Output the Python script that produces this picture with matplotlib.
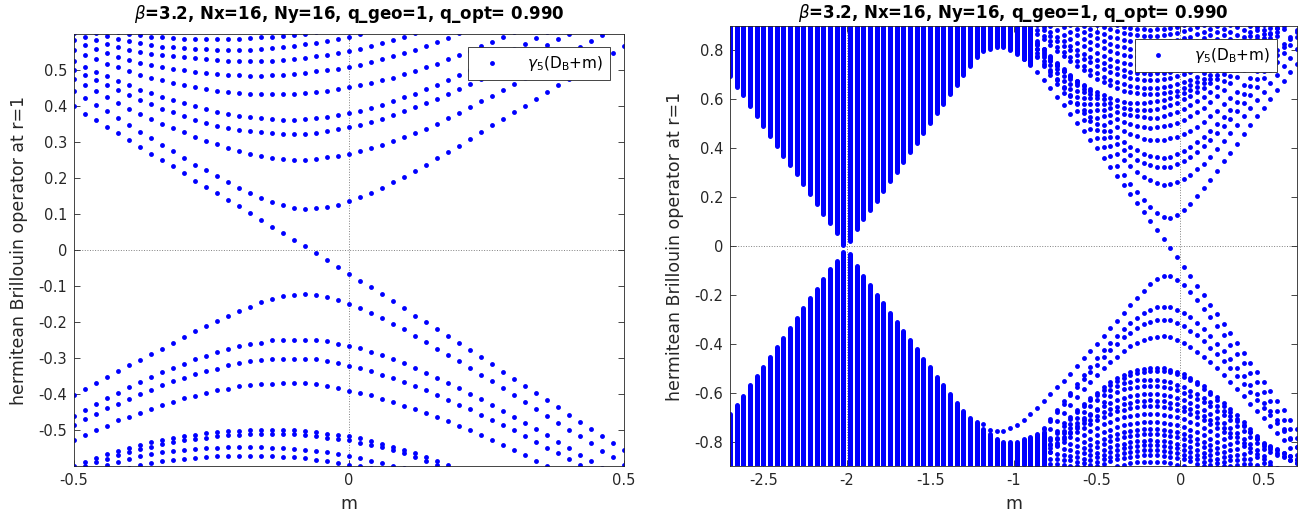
import numpy as np
import matplotlib
matplotlib.use('Agg')
import matplotlib.pyplot as plt
from matplotlib.lines import Line2D

TITLE = r'$\beta$=3.2, Nx=16, Ny=16, q_geo=1, q_opt= 0.990'
YLABEL = 'hermitean Brillouin operator at r=1'
LEGEND = r'$\gamma_5$(D$_\mathregular{B}$+m)'

# mass scans
m_fine = np.round(np.arange(-0.5, 0.5001, 0.02), 2)      # left panel
m_coarse = np.round(np.arange(-2.7, 0.7001, 0.04), 2)    # right panel

# ---- eigenvalue branches on the fine scan (m = -0.5 .. 0.5) ----
cross = [.399, .379, .360, .342, .324, .305, .286, .268, .250, .232, .213, .193, .175, .157, .139,
         .121, .102, .083, .065, .047, .029, .010, -.009, -.028, -.047, -.067, -.085, -.104, -.123,
         -.143, -.162, -.182, -.201, -.220, -.240, -.259, -.279, -.298, -.318, -.338, -.357, -.377,
         -.397, -.417, -.437, -.457, -.477, -.496, -.516, -.536, -.556]
up1 = [.441, .422, .403, .385, .367, .348, .329, .311, .292, .274, .255, .237, .222, .206, .190,
       .173, .158, .144, .134, .125, .118, .115, .116, .119, .126, .135, .146, .159, .172, .188,
       .203, .220, .237, .255, .272, .290, .308, .327, .346, .364, .382, .401, .419, .439, .457,
       .475, .494, .512, .530, .548, .566]
up2 = [.475, .458, .441, .424, .408, .393, .378, .364, .351, .339, .327, .315, .304, .294, .284,
       .276, .268, .261, .256, .253, .251, .251, .253, .257, .262, .268, .274, .283, .292, .302,
       .314, .325, .337, .351, .366, .380, .398, .413, .429, .445, .462, .478, .495, .513, .530,
       .547, .564, .581, .597, .614, .631]
up3 = [.499, .485, .471, .457, .444, .431, .418, .405, .393, .382, .371, .361, .352, .345, .339,
       .334, .330, .327, .325, .323, .323, .323, .325, .330, .336, .342, .348, .355, .364, .374,
       .385, .396, .408, .420, .433, .447, .461, .475, .490, .505, .521, .537, .553, .569, .585,
       .601, .618, .635, .652, .669, .686]
up4 = [.524, .509, .495, .482, .469, .457, .445, .435, .425, .416, .407, .399, .391, .384, .378,
       .373, .369, .366, .364, .362, .362, .363, .366, .370, .376, .381, .387, .394, .403, .413,
       .424, .434, .446, .458, .471, .485, .499, .513, .528, .543, .558, .573, .589, .605, .621,
       .637, .653, .669, .685, .701, .717]
up5 = [.556, .543, .530, .518, .507, .496, .487, .479, .472, .465, .459, .453, .448, .443, .439,
       .436, .434, .433, .433, .433, .434, .437, .440, .443, .447, .452, .458, .464, .471, .479,
       .488, .497, .507, .518, .530, .541, .553, .566, .579, .592, .605, .618, .632, .646, .660,
       .674, .688, .702, .716, .730, .744]
up6 = [.582, .570, .558, .547, .537, .528, .520, .513, .508, .503, .499, .495, .491, .488, .486,
       .485, .484, .484, .485, .487, .490, .493, .496, .500, .504, .509, .515, .522, .530, .538,
       .547, .556, .566, .577, .590, .602, .614, .627, .640, .653, .666, .679, .692, .706, .720,
       .734, .748, .762, .776, .790, .804]
up7 = [.604, .593, .582, .572, .563, .555, .549, .544, .541, .539, .536, .533, .530, .528, .526,
       .525, .524, .524, .525, .527, .530, .534, .538, .542, .547, .553, .559, .566, .575, .584,
       .593, .602, .611, .621, .631, .641, .652, .663, .674, .685, .697, .709, .721, .733, .745,
       .758, .771, .784, .797, .810, .823]
up8 = [.618, .610, .602, .595, .587, .580, .574, .569, .565, .563, .561, .559, .557, .556, .555,
       .555, .556, .558, .561, .564, .568, .572, .576, .581, .586, .593, .600, .607, .614, .622,
       .630, .638, .647, .656, .665, .675, .685, .695, .705, .716, .727, .738, .749, .760, .772,
       .784, .796, .808, .820, .832, .844]
up9 = [.630, .623, .616, .610, .605, .600, .596, .593, .591, .589, .587, .586, .586, .586, .586,
       .587, .589, .591, .593, .595, .598, .601, .605, .609, .614, .619, .625, .631, .637, .644,
       .651, .658, .666, .674, .682, .691, .700, .709, .718, .728, .738, .748, .758, .769, .780,
       .791, .802, .813, .825, .837, .849]
dn1 = [-.402, -.386, -.369, -.353, -.337, -.320, -.305, -.288, -.274, -.258, -.242, -.226, -.212,
       -.197, -.183, -.169, -.157, -.145, -.135, -.129, -.124, -.123, -.124, -.131, -.138, -.149,
       -.160, -.175, -.188, -.205, -.219, -.238, -.256, -.274, -.291, -.309, -.328, -.346, -.365,
       -.384, -.404, -.422, -.442, -.460, -.480, -.499, -.518, -.536, -.557, -.576, -.596]
dn2 = [-.460, -.444, -.427, -.411, -.397, -.381, -.368, -.354, -.340, -.328, -.316, -.303, -.294,
       -.283, -.275, -.266, -.261, -.257, -.251, -.249, -.249, -.249, -.251, -.254, -.260, -.266,
       -.273, -.283, -.291, -.303, -.314, -.328, -.341, -.355, -.369, -.383, -.399, -.414, -.431,
       -.446, -.464, -.481, -.498, -.515, -.532, -.550, -.569, -.587, -.605, -.623, -.641]
dn3 = [-.485, -.470, -.455, -.439, -.427, -.413, -.399, -.388, -.374, -.365, -.356, -.345, -.337,
       -.330, -.320, -.314, -.309, -.306, -.303, -.302, -.302, -.302, -.304, -.307, -.313, -.321,
       -.328, -.337, -.346, -.355, -.366, -.377, -.389, -.402, -.416, -.430, -.443, -.457, -.471,
       -.486, -.501, -.517, -.533, -.549, -.565, -.581, -.597, -.613, -.629, -.645, -.661]
dn4 = [-.527, -.513, -.499, -.488, -.473, -.464, -.453, -.441, -.430, -.421, -.411, -.405, -.396,
       -.390, -.385, -.379, -.376, -.373, -.371, -.369, -.369, -.370, -.373, -.377, -.383, -.391,
       -.397, -.404, -.413, -.422, -.432, -.442, -.453, -.464, -.476, -.488, -.501, -.514, -.528,
       -.542, -.556, -.570, -.585, -.600, -.615, -.630, -.645, -.660, -.675, -.690, -.705]
dn5a = [-.600, -.589, -.578, -.567, -.558, -.549, -.541, -.534, -.528, -.522, -.517, -.513, -.509,
        -.506, -.503, -.502, -.501, -.500, -.500, -.500, -.501, -.503, -.506, -.510, -.514, -.518,
        -.523, -.530, -.538, -.546, -.555, -.564, -.574, -.585, -.596, -.607, -.618, -.630, -.642,
        -.654, -.667, -.680, -.693, -.706, -.720, -.734, -.748, -.762, -.776, -.790, -.804]
dn5b = [-.611, -.600, -.590, -.580, -.570, -.561, -.553, -.546, -.540, -.534, -.529, -.525, -.521,
        -.518, -.515, -.513, -.512, -.511, -.511, -.511, -.512, -.514, -.517, -.521, -.525, -.529,
        -.535, -.541, -.548, -.556, -.565, -.575, -.585, -.596, -.607, -.618, -.630, -.642, -.654,
        -.667, -.680, -.693, -.706, -.720, -.734, -.748, -.762, -.776, -.790, -.804, -.818]
dn6 = [-.630, -.620, -.610, -.597, -.588, -.580, -.573, -.567, -.562, -.558, -.555, -.552, -.550,
       -.549, -.548, -.548, -.548, -.548, -.549, -.550, -.552, -.555, -.558, -.562, -.567, -.572,
       -.578, -.585, -.592, -.599, -.606, -.613, -.621, -.629, -.637, -.646, -.655, -.664, -.674,
       -.684, -.694, -.705, -.716, -.727, -.738, -.750, -.762, -.774, -.786, -.798, -.810]
dn7 = [-.665, -.650, -.637, -.625, -.614, -.605, -.598, -.592, -.587, -.583, -.580, -.577, -.575,
       -.573, -.572, -.572, -.572, -.572, -.573, -.574, -.576, -.579, -.582, -.586, -.591, -.596,
       -.601, -.606, -.612, -.618, -.625, -.632, -.640, -.648, -.656, -.665, -.674, -.683, -.693,
       -.703, -.713, -.724, -.735, -.746, -.757, -.769, -.781, -.793, -.805, -.817, -.829]

# continuation of the same branches on the coarse scan: below m=-0.5 (ending at -0.54)
# and above m=0.5 (0.54 .. 0.70)
cross_lo = [.80, .785, .765, .74, .71, .68, .645, .61, .575, .54, .505, .47, .435]
cross_hi = [-.594, -.633, -.672, -.711, -.75]
up1_lo = [.884, .847, .81, .774, .737, .70, .663, .626, .589, .552, .515, .478]
up1_hi = [.60, .64, .675, .71, .745]
up2_lo = [.895, .86, .825, .79, .755, .72, .685, .65, .615, .58, .545, .51]
up2_hi = [.665, .70, .735, .77, .805]
up3_lo = [.912, .878, .844, .811, .777, .745, .712, .680, .648, .617, .587, .557, .527]
up3_hi = [.720, .754, .788, .822, .856]
up4_lo = [.909, .874, .840, .806, .772, .739, .706, .674, .642, .611, .581, .552]
up4_hi = [.749, .781, .813, .845, .877]
up5_lo = [.921, .887, .854, .821, .788, .756, .724, .694, .664, .635, .607, .581]
up5_hi = [.772, .800, .828, .856, .884]
up6_lo = [.907, .873, .840, .807, .775, .744, .714, .685, .657, .630, .605]
up6_hi = [.832, .860, .888, .916, .944]
up7_lo = [.915, .885, .855, .825, .797, .769, .742, .716, .691, .667, .644, .623]
up7_hi = [.849, .875, .901, .927, .953]
up8_lo = [.922, .892, .862, .832, .804, .776, .750, .724, .700, .677, .656, .636]
up8_hi = [.868, .892, .916, .940, .964]
up9_lo = [.911, .884, .857, .831, .807, .782, .759, .737, .716, .696, .677, .660, .644]
up9_hi = [.871, .893, .915, .937, .959]
dn1_lo = [-.73, -.753, -.758, -.756, -.746, -.733, -.711, -.686, -.663, -.636, -.605, -.578,
          -.552, -.522, -.49, -.458, -.43]
dn1_hi = [-.635, -.673, -.711, -.749, -.787]
dn2_lo = [-.924, -.888, -.852, -.816, -.78, -.744, -.708, -.672, -.636, -.6, -.564, -.529, -.494]
dn2_hi = [-.677, -.713, -.749, -.785, -.821]
dn3_lo = [-.93, -.894, -.858, -.822, -.786, -.75, -.715, -.68, -.645, -.611, -.578, -.546, -.515]
dn3_hi = [-.693, -.725, -.757, -.789, -.821]
dn4_lo = [-.925, -.89, -.855, -.82, -.785, -.75, -.716, -.682, -.649, -.617, -.586, -.556]
dn4_hi = [-.735, -.765, -.795, -.825, -.855]
dn5a_lo = [-.909, -.877, -.846, -.815, -.784, -.755, -.726, -.698, -.672, -.646, -.622]
dn5a_hi = [-.818, -.832, -.846, -.860, -.874]
dn5b_lo = [-.915, -.884, -.853, -.822, -.792, -.763, -.735, -.707, -.681, -.656, -.632]
dn5b_hi = [-.832, -.846, -.860, -.874, -.888]
dn6_lo = [-.903, -.873, -.843, -.814, -.785, -.757, -.73, -.705, -.68, -.655]
dn6_hi = [-.822, -.834, -.846, -.858, -.870]
dn7_lo = [-.9, -.872, -.843, -.815, -.788, -.762, -.737, -.713, -.69]
dn7_hi = [-.841, -.853, -.865, -.877, -.889]

# branches that stay above 0.6 / below -0.6 (coarse scan only), with their first mass
hi1 = [.917, .893, .869, .845, .822, .799, .778, .757, .737, .718, .701, .685, .670, .657, .646,
       .636, .629, .624, .621, .620, .621, .624, .629, .636, .646, .657, .670, .685, .701, .718,
       .737, .757, .778, .799, .822, .845, .869, .893, .917]
hi2 = [.906, .883, .860, .837, .815, .794, .774, .755, .737, .721, .706, .692, .680, .670, .661,
       .654, .649, .646, .645, .646, .649, .654, .661, .670, .680, .692, .706, .721, .737, .755,
       .774, .794, .815, .837, .860, .883, .906]
hi3 = [.904, .882, .861, .840, .820, .801, .783, .767, .751, .737, .724, .713, .703, .695, .688,
       .684, .681, .680, .681, .684, .688, .695, .703, .713, .724, .737, .751, .767, .783, .801,
       .820, .840, .861, .882, .904]
hi4 = [.918, .897, .876, .856, .837, .819, .802, .787, .772, .759, .747, .736, .727, .719, .713,
       .709, .706, .705, .706, .709, .713, .719, .727, .736, .747, .759, .772, .787, .802, .819,
       .837, .856, .876, .897, .918]
hi5 = [.902, .883, .865, .848, .832, .817, .804, .791, .777, .766, .757, .749, .743, .739, .736,
       .735, .736, .739, .743, .749, .757, .766, .777, .791, .804, .817, .832, .848, .865, .883, .902]
hi6 = [.911, .894, .877, .862, .847, .833, .821, .809, .799, .790, .783, .777, .773, .771, .770,
       .771, .773, .777, .783, .790, .799, .809, .821, .833, .847, .862, .877, .894, .911]
hi7 = [.904, .889, .875, .862, .850, .838, .828, .820, .813, .807, .803, .801, .800, .801, .803,
       .807, .813, .820, .828, .838, .850, .862, .875, .889, .904]
hi8 = [.901, .889, .877, .866, .857, .849, .842, .837, .833, .831, .830, .831, .833, .837, .842,
       .849, .857, .866, .877, .889, .901]
hi9 = [.904, .894, .886, .878, .872, .867, .863, .861, .860, .861, .863, .867, .872, .878, .886,
       .894, .904]
hi10 = [.903, .897, .891, .888, .886, .885, .886, .888, .891, .897, .903]
hi_start = [-0.94, -0.90, -0.86, -0.86, -0.78, -0.74, -0.66, -0.58, -0.50, -0.38]

lo1 = [-.909, -.884, -.859, -.834, -.811, -.788, -.766, -.744, -.724, -.705, -.688, -.671, -.656,
       -.643, -.631, -.622, -.615, -.609, -.606, -.605, -.606, -.609, -.615, -.622, -.631, -.643,
       -.656, -.671, -.688, -.705, -.724, -.744, -.766, -.788, -.811, -.834, -.859, -.884, -.909]
lo2 = [-.919, -.896, -.872, -.849, -.826, -.804, -.783, -.763, -.744, -.726, -.710, -.694, -.680,
       -.668, -.657, -.648, -.641, -.636, -.633, -.632, -.633, -.636, -.641, -.648, -.657, -.668,
       -.680, -.694, -.710, -.726, -.744, -.763, -.783, -.804, -.826, -.849, -.872, -.896, -.919]
lo3 = [-.909, -.886, -.864, -.842, -.820, -.800, -.780, -.761, -.744, -.728, -.713, -.699, -.688,
       -.677, -.669, -.662, -.657, -.654, -.653, -.654, -.657, -.662, -.669, -.677, -.688, -.699,
       -.713, -.728, -.744, -.761, -.780, -.800, -.820, -.842, -.864, -.886, -.909]
lo4 = [-.919, -.896, -.873, -.851, -.830, -.811, -.789, -.772, -.757, -.743, -.730, -.719, -.709,
       -.701, -.694, -.690, -.687, -.686, -.687, -.690, -.694, -.701, -.709, -.719, -.730, -.743,
       -.757, -.772, -.789, -.811, -.830, -.851, -.873, -.896, -.919]
lo5 = [-.912, -.892, -.872, -.853, -.836, -.819, -.803, -.788, -.775, -.762, -.752, -.742, -.734,
       -.728, -.724, -.721, -.720, -.721, -.724, -.728, -.734, -.742, -.752, -.762, -.775, -.788,
       -.803, -.819, -.836, -.853, -.872, -.892, -.912]
lo6 = [-.912, -.893, -.875, -.858, -.842, -.827, -.813, -.800, -.788, -.778, -.769, -.761, -.756,
       -.751, -.749, -.748, -.749, -.751, -.756, -.761, -.769, -.778, -.788, -.800, -.813, -.827,
       -.842, -.858, -.875, -.893, -.912]
lo7 = [-.911, -.894, -.877, -.862, -.847, -.833, -.821, -.809, -.799, -.790, -.783, -.777, -.773,
       -.771, -.770, -.771, -.773, -.777, -.783, -.790, -.799, -.809, -.821, -.833, -.847, -.862,
       -.877, -.894, -.911]
lo8 = [-.900, -.885, -.871, -.857, -.845, -.834, -.824, -.815, -.808, -.802, -.798, -.796, -.795,
       -.796, -.798, -.802, -.808, -.815, -.824, -.834, -.845, -.857, -.871, -.885, -.900]
lo9 = [-.902, -.888, -.876, -.864, -.853, -.843, -.835, -.828, -.822, -.818, -.816, -.815, -.816,
       -.818, -.822, -.828, -.835, -.843, -.853, -.864, -.876, -.888, -.902]
lo10 = [-.906, -.894, -.882, -.872, -.862, -.854, -.847, -.842, -.838, -.836, -.835, -.836, -.838,
        -.842, -.847, -.854, -.862, -.872, -.882, -.894, -.906]
lo11 = [-.900, -.890, -.881, -.873, -.867, -.862, -.858, -.856, -.855, -.856, -.858, -.862, -.867,
        -.873, -.881, -.890, -.900]
lo12 = [-.900, -.894, -.888, -.885, -.883, -.882, -.883, -.885, -.888, -.894, -.900]
lo_start = [-0.94, -0.94, -0.90, -0.86, -0.82, -0.78, -0.74, -0.66, -0.62, -0.58, -0.50, -0.38]

# doubler band: edge of the dense eigenvalue columns, coarse scan from m=-2.7
band_top_edge = [.694, .650, .619, .571, .531, .490, .449, .408, .370, .331, .293, .252, .214,
                 .173, .132, .093, .054, .005, .020, .068, .109, .147, .186, .224, .265, .303,
                 .344, .384, .422, .463, .503, .544, .582, .622, .660, .700, .735, .773, .796,
                 .805, .816, .814, .805, .790, .765, .745]
band_bot_edge = [-.689, -.649, -.612, -.569, -.531, -.493, -.453, -.412, -.376, -.335, -.295,
                 -.254, -.214, -.177, -.136, -.096, -.061, -.025, -.031, -.082, -.123, -.159,
                 -.200, -.234, -.274, -.312, -.349, -.385, -.423, -.461, -.497, -.534, -.569,
                 -.605, -.641, -.673, -.705, -.72, -.75, -.77, -.79, -.80, -.80, -.80, -.79,
                 -.78, -.77, -.76]

near = [(cross, cross_lo, cross_hi), (up1, up1_lo, up1_hi), (up2, up2_lo, up2_hi),
        (up3, up3_lo, up3_hi), (up4, up4_lo, up4_hi), (up5, up5_lo, up5_hi),
        (up6, up6_lo, up6_hi), (up7, up7_lo, up7_hi), (up8, up8_lo, up8_hi),
        (up9, up9_lo, up9_hi), (dn1, dn1_lo, dn1_hi), (dn2, dn2_lo, dn2_hi),
        (dn3, dn3_lo, dn3_hi), (dn4, dn4_lo, dn4_hi), (dn5a, dn5a_lo, dn5a_hi),
        (dn5b, dn5b_lo, dn5b_hi), (dn6, dn6_lo, dn6_hi), (dn7, dn7_lo, dn7_hi)]
far = list(zip([hi1, hi2, hi3, hi4, hi5, hi6, hi7, hi8, hi9, hi10], hi_start)) + \
      list(zip([lo1, lo2, lo3, lo4, lo5, lo6, lo7, lo8, lo9, lo10, lo11, lo12], lo_start))

BLUE = (0, 0, 1)
MS = 3.5
GRAY = '#262626'

plt.rcParams['font.family'] = ['DejaVu Sans']
plt.rcParams['mathtext.fontset'] = 'dejavusans'

fig = plt.figure(figsize=(13.02, 5.16), dpi=100)
ax1 = fig.add_axes([74 / 1302, 1 - 466 / 516, 550 / 1302, 432 / 516])
ax2 = fig.add_axes([730 / 1302, 1 - 466 / 516, 567 / 1302, 440 / 516])


def dots(ax, m, y):
    ax.plot(m, y, 'o', color=BLUE, ms=MS, mew=0, ls='none')


def idx(m):
    return int(np.argmin(np.abs(m_coarse - m)))


def tick_text(v):
    return '0' if abs(v) < 1e-9 else f'{v:g}'


# left panel: fine scan
for branch, _, _ in near:
    dots(ax1, m_fine, branch)

# right panel: same branches on the coarse scan, extended beyond |m| = 0.5
i_half = idx(-0.5)
for branch, lo, hi in near:
    y = np.concatenate([lo, np.asarray(branch)[::2], hi])
    j0 = i_half - len(lo)
    dots(ax2, m_coarse[j0:j0 + len(y)], y)
for branch, start in far:
    j0 = idx(start)
    dots(ax2, m_coarse[j0:j0 + len(branch)], branch)

# dense doubler columns
n_top = len(band_top_edge)
n_bot = len(band_bot_edge)
ax2.vlines(m_coarse[:n_top], band_top_edge, 0.95, color=BLUE, lw=3.6, capstyle='round')
ax2.vlines(m_coarse[:n_bot], -0.95, band_bot_edge, color=BLUE, lw=3.6, capstyle='round')

handle = Line2D([], [], marker='o', color=BLUE, ms=MS, mew=0, ls='none')

for ax, xlim, ylim, xt, yt, vlines, anchor, tpad in [
        (ax1, (-0.5, 0.5), (-0.6, 0.6), [-0.5, 0, 0.5],
         np.round(np.arange(-0.5, 0.51, 0.1), 1), [0], (0.975, 0.969), 11),
        (ax2, (-2.7, 0.7), (-0.9, 0.9), np.round(np.arange(-2.5, 0.51, 0.5), 1),
         np.round(np.arange(-0.8, 0.81, 0.2), 1), [-2, 0], (0.964, 0.970), 6)]:
    ax.set_xlim(*xlim)
    ax.set_ylim(*ylim)
    ax.axhline(0, color='#808080', lw=0.7, ls=':', zorder=0)
    for v in vlines:
        ax.axvline(v, color='#808080', lw=0.7, ls=':', zorder=0)
    ax.set_xticks(xt, labels=[tick_text(v) for v in xt])
    ax.set_yticks(yt, labels=[tick_text(v) for v in yt])
    ax.tick_params(direction='in', top=True, right=True, length=4, width=0.6,
                   labelsize=10.5, colors=GRAY, pad=5)
    for s in ax.spines.values():
        s.set_color(GRAY)
        s.set_linewidth(0.6)
    ax.set_xlabel('m', fontsize=12.5, color=GRAY, labelpad=5)
    ax.set_ylabel(YLABEL, fontsize=12.5, color=GRAY, labelpad=7)
    ax.set_title(TITLE, fontsize=12, fontweight='bold', pad=tpad)
    leg = ax.legend([handle], [LEGEND], loc='upper right', bbox_to_anchor=anchor,
                    borderaxespad=0, fontsize=11, fancybox=False, framealpha=1,
                    edgecolor=GRAY, handlelength=2.2, handletextpad=1.2, borderpad=0.45)
    leg.get_frame().set_linewidth(0.6)

fig.savefig('out.png', dpi=100)
